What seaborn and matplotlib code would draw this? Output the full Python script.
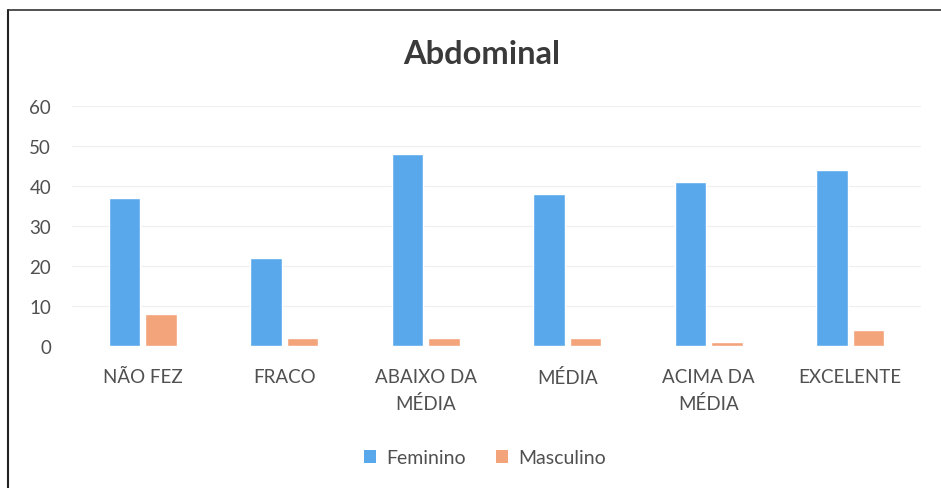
import matplotlib
matplotlib.use("Agg")
import matplotlib.pyplot as plt
from matplotlib.patches import Patch
from matplotlib.lines import Line2D
import seaborn as sns
import pandas as pd

categories = ["NÃO FEZ", "FRACO", "ABAIXO DA\nMÉDIA", "MÉDIA", "ACIMA DA\nMÉDIA", "EXCELENTE"]
feminino = [37, 22, 48, 38, 41, 44]
masculino = [8, 2, 2, 2, 1, 4]
series_names = ["Feminino", "Masculino"]
title = "Abdominal"
yticks = [0, 10, 20, 30, 40, 50, 60]

colors = {"Feminino": "#5AA8EC", "Masculino": "#F3A47B"}

df = pd.DataFrame({
    "Categoria": categories * 2,
    "Sexo": [series_names[0]] * len(categories) + [series_names[1]] * len(categories),
    "Valor": feminino + masculino,
})

sns.set_theme(style="white")
plt.rcParams["font.family"] = ["Lato", "DejaVu Sans"]

W, H = 941, 489
fig = plt.figure(figsize=(W / 100, H / 100), dpi=100)
ax = fig.add_axes([72 / W, 1 - 347 / H, (921 - 72) / W, (347 - 107) / H])

sns.barplot(data=df, x="Categoria", y="Valor", hue="Sexo", palette=colors,
            width=0.516, gap=0.15, legend=False, ax=ax, saturation=1)

ax.set_ylim(0, 60)
ax.set_yticks(yticks)
ax.set_xlim(-0.5, len(categories) - 0.5)
ax.set_xlabel("")
ax.set_ylabel("")
ax.yaxis.grid(True, color="#EEEEEE", linewidth=0.8)
ax.set_axisbelow(True)
for s in ax.spines.values():
    s.set_visible(False)
ax.tick_params(axis="both", length=0, labelsize=13.5, colors="#505050")
ax.tick_params(axis="y", pad=15)
ax.tick_params(axis="x", pad=16)
for lbl in ax.get_xticklabels():
    lbl.set_linespacing(1.6)

fig.text(482 / W, 1 - 55 / H, title, ha="center", va="center",
         fontsize=23.5, fontweight="bold", color="#3A3A3A")

handles = [Patch(facecolor=colors[n], edgecolor="none") for n in series_names]
fig.legend(handles, series_names, loc="center", bbox_to_anchor=(485 / W, 1 - 459 / H),
           ncol=2, frameon=False, fontsize=14, handlelength=0.6, handleheight=0.6,
           handletextpad=0.5, columnspacing=1.6, labelcolor="#505050")

fig.add_artist(Line2D([8 / W, 8 / W], [0, 1 - 11 / H], color="#222222", lw=1.5,
                      transform=fig.transFigure))
fig.add_artist(Line2D([8 / W, 1], [1 - 11 / H, 1 - 11 / H], color="#333333", lw=1.2,
                      transform=fig.transFigure))

fig.savefig("out.png", dpi=100, facecolor="white")
